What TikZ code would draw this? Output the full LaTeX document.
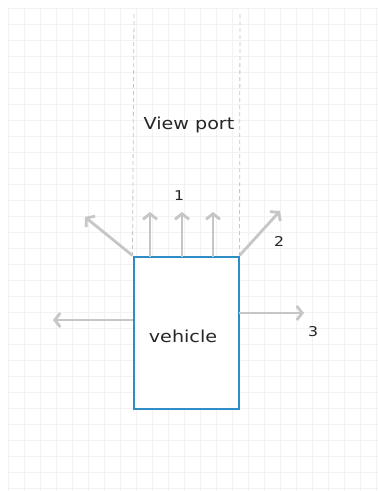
\documentclass[tikz,border=0pt]{standalone}
\usepackage{fontspec}
\usetikzlibrary{arrows.meta}
\newfontfamily\lab[FakeStretch=1.16]{DejaVu Sans}
\definecolor{gridc}{HTML}{F2F2F2}
\definecolor{arrowc}{HTML}{C6C6C6}
\definecolor{boxc}{HTML}{2F8CC4}
\definecolor{textc}{HTML}{262626}
\tikzset{
  gridline/.style={draw=gridc, line width=0.8pt},
  viewline/.style={draw=arrowc, line width=0.8pt, dash pattern=on 4pt off 3pt},
  ray/.style={draw=arrowc, line width=2.8pt, -{Straight Barb[length=5.5pt,width=14pt,line width=2.8pt]}},
  vehbox/.style={draw=boxc, line width=2pt, fill=white, minimum width=105pt, minimum height=152pt, inner sep=0pt},
  bigtext/.style={text=textc, font=\lab\fontsize{16.5}{19}\selectfont},
  numtext/.style={text=textc, font=\lab\fontsize{13.5}{15}\selectfont},
}
\begin{document}
\begin{tikzpicture}[x=1pt, y=-1pt]
  \useasboundingbox (0,0) rectangle (378,491);
  \fill[white] (0,0) rectangle (378,491);
  % background grid
  \foreach \gx in {8,24,...,376} \draw[gridline] (\gx,8) -- (\gx,491);
  \foreach \gy in {8,24,...,490} \draw[gridline] (8,\gy) -- (378,\gy);

  % the vehicle
  \node[vehbox] (veh) at (186,332.5) {};
  \node[bigtext] (vlabel) at (183,336) {vehicle};

  % view port borders
  \coordinate (vpL) at (134,14);
  \coordinate (vpR) at (240,14);
  \draw[viewline] (vpL) -- (veh.north west);
  \draw[viewline] (vpR) -- (veh.north east);
  \node[bigtext] (vp) at (189,125) {View port};

  % ray end points
  \coordinate (s1) at (150,256.5);
  \coordinate (s2) at (182,256.5);
  \coordinate (s3) at (213,256.5);
  \coordinate (t1) at (150,212);
  \coordinate (t2) at (182,212);
  \coordinate (t3) at (213,212);
  \coordinate (tl) at (85,217);
  \coordinate (tr) at (280,211);
  \coordinate (sl) at (133,320);
  \coordinate (el) at (53,320);
  \coordinate (sr) at (239,313);
  \coordinate (er) at (304,313);

  % rays
  \draw[ray] (s1) -- (t1);
  \draw[ray] (s2) -- (t2);
  \draw[ray] (s3) -- (t3);
  \draw[ray] (veh.north west) -- (tl);
  \draw[ray] (veh.north east) -- (tr);
  \draw[ray] (sl) -- (el);
  \draw[ray] (sr) -- (er);

  % labels
  \node[numtext] (n1) at (179,196) {1};
  \node[numtext] (n2) at (279,241) {2};
  \node[numtext] (n3) at (313,332) {3};
\end{tikzpicture}
\end{document}
